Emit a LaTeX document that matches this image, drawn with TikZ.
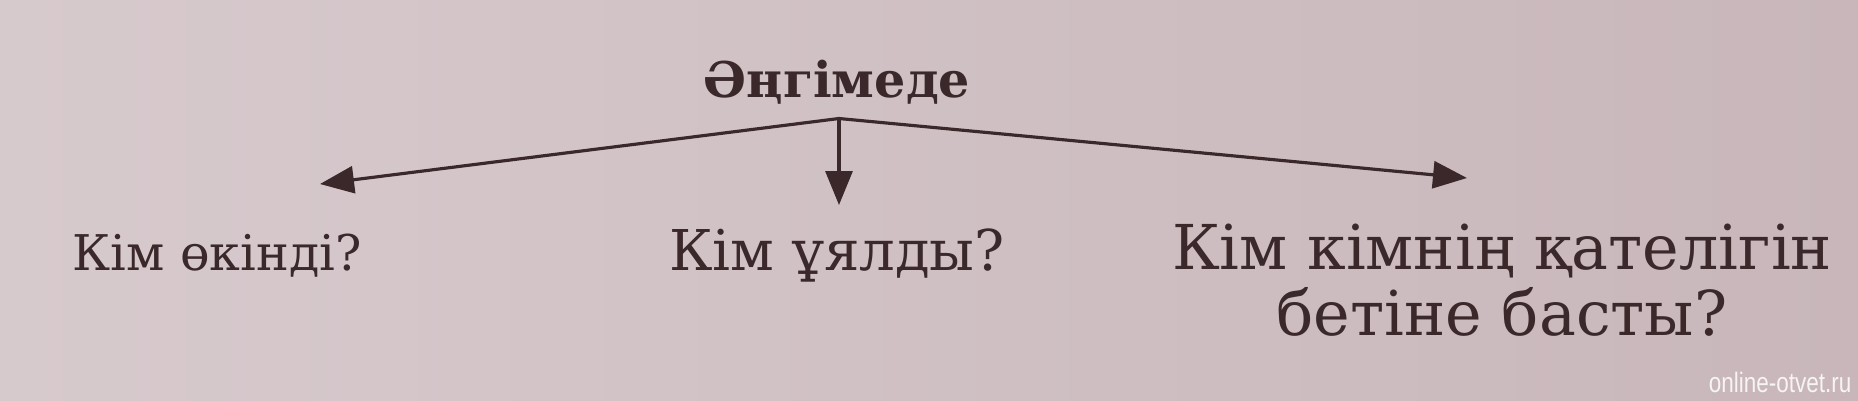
\documentclass[tikz,border=0pt]{standalone}
\usepackage{fontspec}
\setmainfont{DejaVu Serif}
\newfontfamily\marksans{Liberation Sans}
\usetikzlibrary{arrows.meta}
\definecolor{paper}{RGB}{200,182,186}
\definecolor{paperlight}{RGB}{215,202,205}
\definecolor{ink}{RGB}{58,40,43}
\tikzset{
  heading/.style={anchor=base, inner sep=0pt, text=ink, font=\bfseries\fontsize{14}{17}\selectfont},
  question/.style={anchor=base, inner sep=0pt, text=ink, align=center, font=\fontsize{16}{18.5}\selectfont},
  pointer/.style={draw=ink, line width=0.9pt, -{Triangle[length=3.4mm, width=2.7mm]}}
}
\begin{document}
\begin{tikzpicture}
  \shade[left color=paperlight, right color=paper] (0,0) rectangle (18.58,4);
  \useasboundingbox (0,0) rectangle (18.58,4);
  \draw
    (8.37,3.03) node[heading] (story){Әңгімеде}
    (2.17,1.30) node[question, font=\fontsize{14}{17}\selectfont] (regret){Кім өкінді?}
    (8.37,1.30) node[question] (shame){Кім ұялды?}
    (15.02,0.65) node[question, font=\fontsize{17.6}{18.5}\selectfont] (mistake){Кім кімнің қателігін\\бетіне басты?};
  \node[anchor=base east, inner sep=0pt, text=white!85!paper, font=\marksans\fontsize{8}{9}\selectfont] (site) at (18.52,0.08) {\scalebox{0.8}[1]{online-otvet.ru}};
  \coordinate (fork) at ([shift={(0.02,-0.215)}]story.base);
  \begin{scope}[pointer]
    \draw (fork) -- ([shift={(1.03,0.86)}]regret.base);
    \draw (fork) -- ([shift={(0.02,0.65)}]shame.base);
    \draw (fork) -- ([shift={(-0.35,1.57)}]mistake.base);
  \end{scope}
\end{tikzpicture}
\end{document}
